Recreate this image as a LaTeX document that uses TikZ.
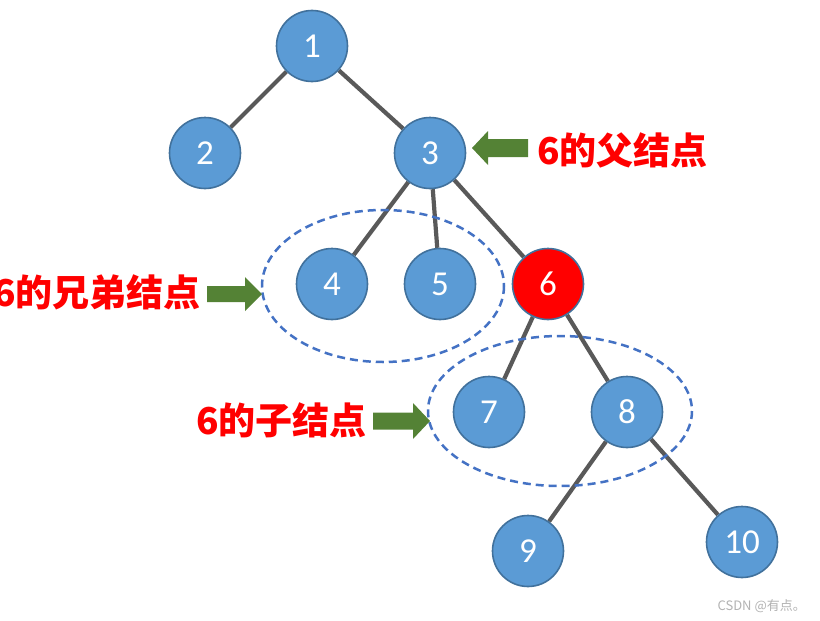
\documentclass[tikz,border=0pt]{standalone}
\usepackage{fontspec}
\setmainfont{Carlito}
\newfontfamily\cjk{Noto Sans CJK SC}
\usetikzlibrary{backgrounds}
\definecolor{nodefill}{HTML}{5B9BD5}
\definecolor{nodeedge}{HTML}{41719C}
\definecolor{edgegray}{HTML}{595959}
\definecolor{dashblue}{HTML}{4472C4}
\definecolor{arrowgreen}{HTML}{548235}
\tikzset{
  tnode/.style={circle, minimum size=71pt, inner sep=0pt, fill=nodefill, draw=nodeedge, line width=1.6pt,
    text=white, font=\fontsize{35}{35}\selectfont},
  rednode/.style={tnode, fill=red},
  tedge/.style={draw=edgegray, line width=4.2pt},
  group/.style={draw=dashblue, line width=2.5pt, dash pattern=on 8pt off 5pt},
  garrow/.style={fill=arrowgreen},
  lbl/.style={text=red, inner sep=0pt, font=\cjk\bfseries\fontsize{37}{37}\selectfont},
}
\begin{document}
\begin{tikzpicture}[x=1pt,y=-1pt]
\useasboundingbox (0,0) rectangle (820,621);
\node[tnode] (n1) at (312,46) {1};
\node[tnode] (n2) at (205,153) {2};
\node[tnode] (n3) at (430,153) {3};
\node[tnode] (n4) at (332,284) {4};
\node[tnode] (n5) at (440,284) {5};
\node[rednode] (n6) at (548,284) {6};
\node[tnode] (n7) at (489,412) {7};
\node[tnode] (n8) at (627,412) {8};
\node[tnode] (n9) at (528,551) {9};
\node[tnode] (n10) at (742,542) {10};
\begin{scope}[on background layer]
\draw[tedge] (n1) -- (n2);
\draw[tedge] (n1) -- (n3);
\draw[tedge] (n3) -- (n4);
\draw[tedge] (n3) -- (n5);
\draw[tedge] (n3) -- (n6);
\draw[tedge] (n6) -- (n7);
\draw[tedge] (n6) -- (n8);
\draw[tedge] (n8) -- (n9);
\draw[tedge] (n8) -- (n10);
\end{scope}
\draw[group] (383,286) ellipse [x radius=121, y radius=76];
\draw[group] (560,411) ellipse [x radius=132, y radius=75];
% arrows
\fill[garrow] (472,148) -- (488,131) -- (488,139) -- (528,139) -- (528,157) -- (488,157) -- (488,165) -- cycle;
\fill[garrow] (262,294) -- (245,277) -- (245,286) -- (207,286) -- (207,302) -- (245,302) -- (245,311) -- cycle;
\fill[garrow] (430,421) -- (413,403) -- (413,412.5) -- (373,412.5) -- (373,429.5) -- (413,429.5) -- (413,439) -- cycle;
% labels
\node[lbl, anchor=west] (lp) at (537,150) {6的父结点};
\node[lbl, anchor=east] (ls) at (201,292) {6的兄弟结点};
\node[lbl, anchor=west] (lc) at (196,420) {6的子结点};
\node[anchor=east, text=black!30, inner sep=0pt, font=\cjk\fontsize{13}{13}\selectfont] (wm) at (806,606) {CSDN @有点。};
\end{tikzpicture}
\end{document}
